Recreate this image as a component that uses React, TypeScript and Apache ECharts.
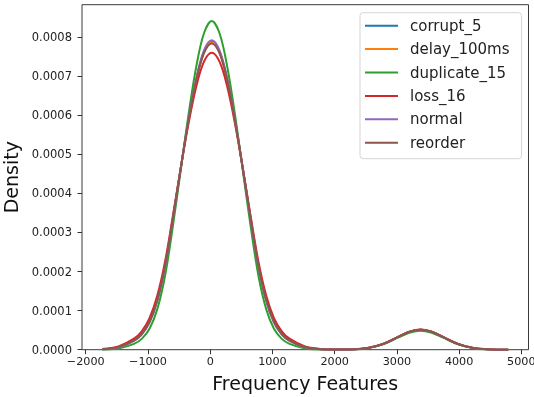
import React, { useEffect, useRef } from "react";
import * as echarts from "echarts";

const xs = [-1735, -1475, -1225, -1100, -975, -850, -725, -600, -475, -350, -225, -100, 25, 150, 275, 400, 525, 650, 775, 900, 1025, 1150, 1275, 1525, 1775, 2025, 2275, 2525, 2775, 3025, 3200, 3380, 3560, 3735, 3985, 4235, 4485, 4790];

const corrupt5 = [1.2e-6, 6.3e-6, 2.31e-5, 3.98e-5, 7.06e-5, 1.263e-4, 2.138e-4, 3.344e-4, 4.626e-4, 5.862e-4, 6.908e-4, 7.625e-4, 7.88e-4, 7.625e-4, 6.908e-4, 5.862e-4, 4.626e-4, 3.344e-4, 2.138e-4, 1.263e-4, 7.06e-5, 3.98e-5, 2.31e-5, 6.3e-6, 1.3e-6, 3.7e-7, 7.4e-7, 4.06e-6, 1.438e-5, 3.295e-5, 4.559e-5, 5.1e-5, 4.559e-5, 3.295e-5, 1.438e-5, 4.06e-6, 7.4e-7, 5e-8];
const delay100ms = [1.3e-6, 6.4e-6, 2.35e-5, 4.04e-5, 7.14e-5, 1.274e-4, 2.15e-4, 3.354e-4, 4.63e-4, 5.857e-4, 6.896e-4, 7.608e-4, 7.86e-4, 7.608e-4, 6.896e-4, 5.857e-4, 4.63e-4, 3.354e-4, 2.15e-4, 1.274e-4, 7.14e-5, 4.04e-5, 2.35e-5, 6.4e-6, 1.4e-6, 3.9e-7, 7.4e-7, 4.04e-6, 1.433e-5, 3.282e-5, 4.542e-5, 5.08e-5, 4.542e-5, 3.282e-5, 1.433e-5, 4.04e-6, 7.4e-7, 5e-8];
const duplicate15 = [5e-7, 3.3e-6, 1.49e-5, 2.77e-5, 5.34e-5, 1.038e-4, 1.893e-4, 3.157e-4, 4.575e-4, 5.996e-4, 7.236e-4, 8.1e-4, 8.41e-4, 8.1e-4, 7.236e-4, 5.996e-4, 4.575e-4, 3.157e-4, 1.893e-4, 1.038e-4, 5.34e-5, 2.77e-5, 1.49e-5, 3.3e-6, 6e-7, 1.8e-7, 7.1e-7, 3.86e-6, 1.368e-5, 3.133e-5, 4.336e-5, 4.85e-5, 4.336e-5, 3.133e-5, 1.368e-5, 3.86e-6, 7.1e-7, 4.5e-8];
const loss16 = [1.8e-6, 8.5e-6, 2.84e-5, 4.72e-5, 8.06e-5, 1.385e-4, 2.258e-4, 3.424e-4, 4.631e-4, 5.771e-4, 6.724e-4, 7.371e-4, 7.6e-4, 7.371e-4, 6.724e-4, 5.771e-4, 4.631e-4, 3.424e-4, 2.258e-4, 1.385e-4, 8.06e-5, 4.72e-5, 2.84e-5, 8.5e-6, 2.0e-6, 5.7e-7, 7.5e-7, 4.1e-6, 1.452e-5, 3.327e-5, 4.604e-5, 5.15e-5, 4.604e-5, 3.327e-5, 1.452e-5, 4.1e-6, 7.5e-7, 4.8e-8];
const normal = [1.15e-6, 6.0e-6, 2.23e-5, 3.88e-5, 6.93e-5, 1.247e-4, 2.121e-4, 3.333e-4, 4.625e-4, 5.873e-4, 6.934e-4, 7.661e-4, 7.92e-4, 7.661e-4, 6.934e-4, 5.873e-4, 4.625e-4, 3.333e-4, 2.121e-4, 1.247e-4, 6.93e-5, 3.88e-5, 2.23e-5, 6.0e-6, 1.3e-6, 3.6e-7, 7.4e-7, 4.06e-6, 1.438e-5, 3.295e-5, 4.559e-5, 5.1e-5, 4.559e-5, 3.295e-5, 1.438e-5, 4.06e-6, 7.4e-7, 5e-8];
const reorder = [1.3e-6, 6.6e-6, 2.38e-5, 4.08e-5, 7.2e-5, 1.28e-4, 2.155e-4, 3.356e-4, 4.628e-4, 5.849e-4, 6.883e-4, 7.589e-4, 7.84e-4, 7.589e-4, 6.883e-4, 5.849e-4, 4.628e-4, 3.356e-4, 2.155e-4, 1.28e-4, 7.2e-5, 4.08e-5, 2.38e-5, 6.6e-6, 1.4e-6, 4.0e-7, 7.5e-7, 4.08e-6, 1.444e-5, 3.308e-5, 4.577e-5, 5.12e-5, 4.577e-5, 3.308e-5, 1.444e-5, 4.08e-6, 7.5e-7, 4.8e-8];

const seriesNames = ["corrupt_5", "delay_100ms", "duplicate_15", "loss_16", "normal", "reorder"];
const seriesValues = [corrupt5, delay100ms, duplicate15, loss16, normal, reorder];
const seriesColors = ["#1f77b4", "#ff7f0e", "#2ca02c", "#d62728", "#9467bd", "#8c564b"];

const xTicks = [-2000, -1000, 0, 1000, 2000, 3000, 4000, 5000];
const yTicks = [0, 0.0001, 0.0002, 0.0003, 0.0004, 0.0005, 0.0006, 0.0007, 0.0008];

const FONT = "DejaVu Sans";

export default function App() {
  const ref = useRef<HTMLDivElement>(null);
  useEffect(() => {
    if (!ref.current) return;
    const chart = echarts.init(ref.current, undefined, { renderer: "svg" });
    chart.setOption({
      animation: false,
      textStyle: { fontFamily: FONT },
      grid: {
        left: 82,
        right: 5.5,
        top: 4.7,
        bottom: 47.3,
        show: true,
        borderColor: "#3a3a3a",
        borderWidth: 1,
        backgroundColor: "transparent",
        outerBoundsMode: "none",
        containLabel: false,
      },
      legend: {
        orient: "vertical",
        left: 360,
        top: 12.7,
        padding: [5.5, 12, 8.5, 5],
        itemWidth: 33,
        itemHeight: 2,
        itemGap: 8.4,
        icon: "rect",
        backgroundColor: "#ffffff",
        borderColor: "#d5d5d5",
        borderWidth: 1,
        borderRadius: 3,
        textStyle: { fontFamily: FONT, fontSize: 15, lineHeight: 15, color: "#222", padding: [0, 0, 0, 7] },
        data: seriesNames,
      },
      xAxis: {
        type: "value",
        min: -2060,
        max: 5115,
        splitLine: { show: false },
        axisLine: { show: false, onZero: false },
        axisTick: { show: true, length: 4.5, lineStyle: { color: "#333", width: 1 }, customValues: xTicks },
        axisLabel: {
          customValues: xTicks,
          margin: 6,
          fontSize: 11.2,
          color: "#222",
          fontFamily: FONT,
          formatter: (v: number) => (v < 0 ? "\u2212" + Math.abs(v) : String(v)),
        },
        name: "Frequency Features",
        nameLocation: "middle",
        nameGap: 23.5,
        nameTextStyle: { fontSize: 19, color: "#111", fontFamily: FONT },
      },
      yAxis: {
        type: "value",
        min: 0,
        max: 0.000883,
        splitLine: { show: false },
        axisLine: { show: false, onZero: false },
        axisTick: { show: true, length: 4.5, lineStyle: { color: "#333", width: 1 }, customValues: yTicks },
        axisLabel: {
          customValues: yTicks,
          margin: 10,
          fontSize: 11.5,
          color: "#222",
          fontFamily: FONT,
          formatter: (v: number) => v.toFixed(4),
        },
        name: "Density",
        nameLocation: "middle",
        nameGap: 52,
        nameRotate: 90,
        nameTextStyle: { fontSize: 19, color: "#111", fontFamily: FONT },
      },
      series: seriesNames.map((name, i) => ({
        name,
        type: "line",
        data: xs.map((x, j) => [x, seriesValues[i][j]]),
        smooth: 0.35,
        symbol: "none",
        showSymbol: false,
        color: seriesColors[i],
        lineStyle: { color: seriesColors[i], width: 2 },
        emphasis: { disabled: true },
        z: 2 + i,
      })),
    });
    return () => chart.dispose();
  }, []);
  return <div ref={ref} style={{ position: "fixed", left: 0, top: 0, width: 534, height: 397 }} />;
}
